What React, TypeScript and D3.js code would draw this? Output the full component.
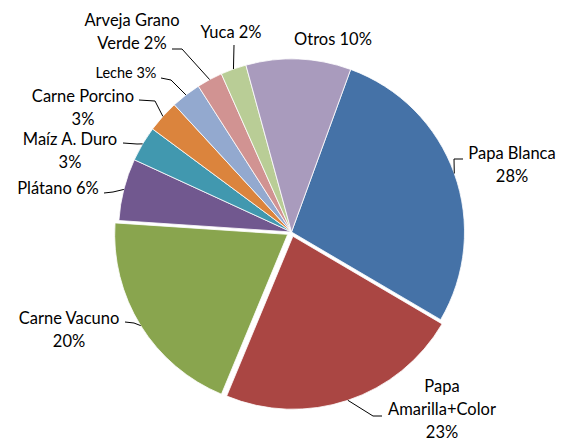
import React from 'react';
import * as d3 from 'd3';

// Data
const categories = [
  'Papa Blanca',
  'Papa Amarilla+Color',
  'Carne Vacuno',
  'Plátano',
  'Maíz A. Duro',
  'Carne Porcino',
  'Leche',
  'Arveja Grano Verde',
  'Yuca',
  'Otros',
];
const shares = [27.9, 22.8, 19.8, 5.8, 3.3, 3.0, 2.8, 2.4, 2.4, 9.8];
const colors = [
  '#4572A7', '#AA4643', '#89A54E', '#71588F', '#4198AF',
  '#DB843D', '#93A9CF', '#D19392', '#B9CD96', '#A99BBD',
];
const exploded = ['Papa Amarilla+Color', 'Carne Vacuno'];

// Label layout: text lines, centre x, first baseline y, leader attach/elbow points
const labelLayout = [
  { lines: ['Papa Blanca', '{p}'], x: 512, y: 159, size: 16.5, leader: [[463, 159], [454, 159]] },
  { lines: ['Papa', 'Amarilla+Color', '{p}'], x: 442, y: 392, size: 16.5, leader: [[382, 416], [373, 416]] },
  { lines: ['Carne Vacuno', '{p}'], x: 69, y: 324, size: 16.5, leader: [[125, 322], [134, 323]] },
  { lines: ['Plátano {p}'], x: 58, y: 194, size: 16.5, leader: [[104, 193], [113, 192]] },
  { lines: ['Maíz A. Duro', '{p}'], x: 70, y: 145, size: 16.5, leader: [[123, 143], [137, 144]] },
  { lines: ['Carne Porcino', '{p}'], x: 83, y: 102, size: 16.5, leader: [[139, 100], [155, 101]] },
  { lines: ['Leche {p}'], x: 126, y: 78, size: 14.5, leader: [[161, 78], [171, 80]] },
  { lines: ['Arveja Grano', 'Verde {p}'], x: 132, y: 26, size: 16.5, leader: [[172, 49], [182, 49]] },
  { lines: ['Yuca {p}'], x: 231, y: 38, size: 16.5, leader: [[234, 45]] },
  { lines: ['Otros {p}'], x: 333, y: 45, size: 16.5, leader: null },
];

const W = 569;
const H = 443;
const cx = 291.5;
const cy = 232;
const R = 173;
const explodeDist = 4.5;
const startDeg = 20;

export default function App() {
  const total = d3.sum(shares);
  const pie = d3
    .pie<number>()
    .sort(null)
    .value(d => d)
    .startAngle((startDeg * Math.PI) / 180)
    .endAngle((startDeg * Math.PI) / 180 + 2 * Math.PI);
  const arcs = pie(shares);
  const arc = d3.arc<d3.PieArcDatum<number>>().innerRadius(0).outerRadius(R);

  const offsetOf = (a: d3.PieArcDatum<number>, i: number) => {
    if (!exploded.includes(categories[i])) return [0, 0];
    const m = (a.startAngle + a.endAngle) / 2;
    return [Math.sin(m) * explodeDist, -Math.cos(m) * explodeDist];
  };

  return (
    <svg width={W} height={H} style={{ position: 'absolute', left: 0, top: 0 }}>
      <rect width={W} height={H} fill="#fff" />
      <g transform={`translate(${cx},${cy})`}>
        {arcs.map((a, i) => {
          const [dx, dy] = offsetOf(a, i);
          return (
            <path
              key={categories[i]}
              d={arc(a) || ''}
              transform={`translate(${dx},${dy})`}
              fill={colors[i]}
              stroke="#fff"
              strokeWidth={0.8}
            />
          );
        })}
      </g>
      {arcs.map((a, i) => {
        const lay = labelLayout[i];
        const pct = `${Math.round((shares[i] / total) * 100)}%`;
        const [dx, dy] = offsetOf(a, i);
        const m = (a.startAngle + a.endAngle) / 2;
        const ex = cx + dx + Math.sin(m) * R;
        const ey = cy + dy - Math.cos(m) * R;
        const lineH = 23;
        return (
          <g key={`lbl-${i}`}>
            {lay.leader && (
              <polyline
                points={[...lay.leader, [ex, ey]].map(p => p.join(',')).join(' ')}
                fill="none"
                stroke="#000"
                strokeWidth={1}
              />
            )}
            <text
              x={lay.x}
              y={lay.y}
              textAnchor="middle"
              fontFamily="Lato, sans-serif"
              fontSize={lay.size}
              fill="#000"
            >
              {lay.lines.map((l, j) => (
                <tspan key={j} x={lay.x} y={lay.y + j * lineH}>
                  {l.replace('{p}', pct)}
                </tspan>
              ))}
            </text>
          </g>
        );
      })}
    </svg>
  );
}
